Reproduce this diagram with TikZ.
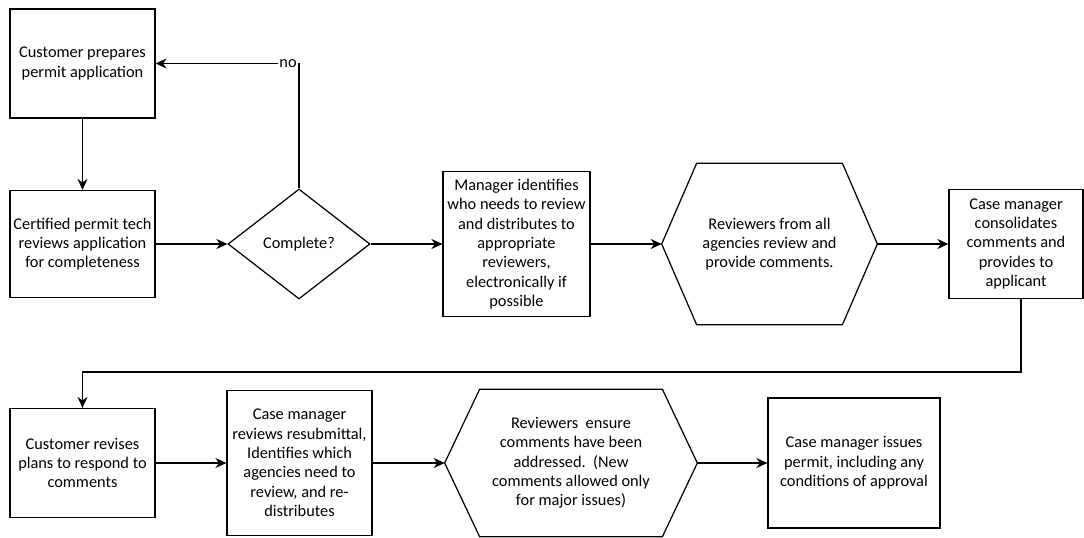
\documentclass[tikz,border=0pt]{standalone}
\usepackage{fontspec}
\setmainfont{Carlito}
\usepackage{tikz}
\usetikzlibrary{shapes.geometric,arrows.meta}
\tikzstyle{mybox} = [draw=black, fill=white, line width=0.7pt,
    rectangle, align=center, inner sep=2pt, font=\fontsize{9.3}{11}\selectfont]
\tikzstyle{hexbox} = [rectangle, align=center, inner sep=2pt, font=\fontsize{9.3}{11}\selectfont]
\tikzstyle{decision} = [draw=black, line width=0.7pt, diamond, inner sep=0pt,
    font=\fontsize{9.3}{11}\selectfont]
\tikzstyle{arrow} = [line width=0.7pt, -{Stealth[length=2.2mm, width=2mm]}]

\begin{document}
\begin{tikzpicture}[x=0.02cm, y=-0.02cm]
                \useasboundingbox (0,0) rectangle (1084,537);
                \node [mybox, minimum width=2.9cm, minimum height=2.18cm] (box1) at (82.5,63.5)
                    {Customer prepares\\permit application};
                \node [mybox, minimum width=2.9cm, minimum height=2.14cm] (box2) at (82.5,244)
                    {Certified permit tech\\reviews application\\for completeness};
                \node [decision, minimum width=2.84cm, minimum height=2.2cm] (dec1) at (299,244) {Complete?};
                \node [mybox, minimum width=2.94cm, minimum height=2.9cm] (box3) at (516.5,244)
                    {Manager identifies\\who needs to review\\and distributes to\\appropriate\\reviewers,\\electronically if\\possible};
                \node [hexbox, minimum width=4.3cm, minimum height=3.22cm] (hex1) at (769.5,244)
                    {Reviewers from all\\agencies review and\\provide comments.};
                \draw [line width=0.7pt] (hex1.west) -- ([xshift=0.7cm]hex1.north west) -- ([xshift=-0.7cm]hex1.north east)
                    -- (hex1.east) -- ([xshift=-0.7cm]hex1.south east) -- ([xshift=0.7cm]hex1.south west) -- cycle;
                \node [mybox, minimum width=2.68cm, minimum height=2.18cm] (box4) at (1016,244)
                    {Case manager\\consolidates\\comments and\\provides to\\applicant};
                \node [mybox, minimum width=2.9cm, minimum height=2.18cm] (box5) at (82.5,463)
                    {Customer revises\\plans to respond to\\comments};
                \node [mybox, minimum width=2.9cm, minimum height=2.9cm] (box6) at (299.5,463)
                    {Case manager\\reviews resubmittal,\\Identifies which\\agencies need to\\review, and re-\\distributes};
                \node [hexbox, minimum width=5.04cm, minimum height=2.94cm] (hex2) at (571,463)
                    {Reviewers\ \ ensure\\comments have been\\addressed.\ \ (New\\comments allowed only\\for major issues)};
                \draw [line width=0.7pt] (hex2.west) -- ([xshift=0.7cm]hex2.north west) -- ([xshift=-0.7cm]hex2.north east)
                    -- (hex2.east) -- ([xshift=-0.7cm]hex2.south east) -- ([xshift=0.7cm]hex2.south west) -- cycle;
                \node [mybox, minimum width=3.44cm, minimum height=2.6cm] (box7) at (854,463)
                    {Case manager issues\\permit, including any\\conditions of approval};

                \draw [arrow] (box1) -- (box2);
                \draw [arrow] (box2) -- (dec1);
                \draw [arrow] (dec1.north) |- node [fill=white, inner sep=1pt, anchor=east,
                    font=\fontsize{9.3}{11}\selectfont] {no} (box1.east);
                \draw [arrow] (dec1) -- (box3);
                \draw [arrow] (box3) -- (hex1.west);
                \draw [arrow] (hex1.east) -- (box4);
                \draw [arrow] ([xshift=0.1cm]box4.south) -- ++(0,73) -| (box5.north);
                \draw [arrow] (box5) -- (box6);
                \draw [arrow] (box6) -- (hex2.west);
                \draw [arrow] (hex2.east) -- (box7);
            \end{tikzpicture}
\end{document}
